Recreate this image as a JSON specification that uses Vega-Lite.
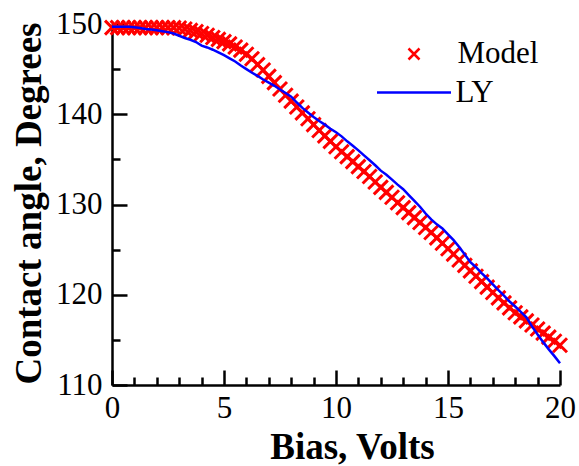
{
  "$schema": "https://vega.github.io/schema/vega-lite/v6.json",
  "width": 448,
  "height": 361,
  "autosize": {"type": "none"},
  "padding": {"left": 112, "top": 24, "right": 19, "bottom": 81},
  "background": "white",
  "config": {
    "view": {"stroke": null},
    "axis": {
      "grid": false,
      "domainColor": "black",
      "domainWidth": 2.5,
      "tickColor": "black",
      "tickWidth": 2.5,
      "labelFont": "Liberation Serif",
      "labelFontSize": 31,
      "labelColor": "black",
      "titleFont": "Liberation Serif",
      "titleFontSize": 37,
      "titleFontWeight": "bold",
      "titleColor": "black",
      "labelFlush": false,
      "labelOverlap": false
    }
  },
  "data": {
    "values": [
      {"bias": 0, "angle": 149.6, "series": "Model"},
      {"bias": 0.25, "angle": 149.6, "series": "Model"},
      {"bias": 0.5, "angle": 149.6, "series": "Model"},
      {"bias": 0.75, "angle": 149.6, "series": "Model"},
      {"bias": 1, "angle": 149.6, "series": "Model"},
      {"bias": 1.25, "angle": 149.6, "series": "Model"},
      {"bias": 1.5, "angle": 149.6, "series": "Model"},
      {"bias": 1.75, "angle": 149.6, "series": "Model"},
      {"bias": 2, "angle": 149.6, "series": "Model"},
      {"bias": 2.25, "angle": 149.6, "series": "Model"},
      {"bias": 2.5, "angle": 149.6, "series": "Model"},
      {"bias": 2.75, "angle": 149.6, "series": "Model"},
      {"bias": 3, "angle": 149.55, "series": "Model"},
      {"bias": 3.25, "angle": 149.45, "series": "Model"},
      {"bias": 3.5, "angle": 149.3, "series": "Model"},
      {"bias": 3.75, "angle": 149.15, "series": "Model"},
      {"bias": 4, "angle": 148.95, "series": "Model"},
      {"bias": 4.25, "angle": 148.75, "series": "Model"},
      {"bias": 4.5, "angle": 148.5, "series": "Model"},
      {"bias": 4.75, "angle": 148.3, "series": "Model"},
      {"bias": 5, "angle": 148.05, "series": "Model"},
      {"bias": 5.25, "angle": 147.8, "series": "Model"},
      {"bias": 5.5, "angle": 147.45, "series": "Model"},
      {"bias": 5.75, "angle": 147.1, "series": "Model"},
      {"bias": 6, "angle": 146.65, "series": "Model"},
      {"bias": 6.25, "angle": 146.15, "series": "Model"},
      {"bias": 6.5, "angle": 145.5, "series": "Model"},
      {"bias": 6.75, "angle": 144.9, "series": "Model"},
      {"bias": 7, "angle": 144.2, "series": "Model"},
      {"bias": 7.25, "angle": 143.5, "series": "Model"},
      {"bias": 7.5, "angle": 142.8, "series": "Model"},
      {"bias": 7.75, "angle": 142.1, "series": "Model"},
      {"bias": 8, "angle": 141.45, "series": "Model"},
      {"bias": 8.25, "angle": 140.8, "series": "Model"},
      {"bias": 8.5, "angle": 140.15, "series": "Model"},
      {"bias": 8.75, "angle": 139.5, "series": "Model"},
      {"bias": 9, "angle": 138.85, "series": "Model"},
      {"bias": 9.25, "angle": 138.2, "series": "Model"},
      {"bias": 9.5, "angle": 137.6, "series": "Model"},
      {"bias": 9.75, "angle": 137.0, "series": "Model"},
      {"bias": 10, "angle": 136.4, "series": "Model"},
      {"bias": 10.25, "angle": 135.85, "series": "Model"},
      {"bias": 10.5, "angle": 135.3, "series": "Model"},
      {"bias": 10.75, "angle": 134.75, "series": "Model"},
      {"bias": 11, "angle": 134.2, "series": "Model"},
      {"bias": 11.25, "angle": 133.65, "series": "Model"},
      {"bias": 11.5, "angle": 133.1, "series": "Model"},
      {"bias": 11.75, "angle": 132.5, "series": "Model"},
      {"bias": 12, "angle": 131.9, "series": "Model"},
      {"bias": 12.25, "angle": 131.35, "series": "Model"},
      {"bias": 12.5, "angle": 130.8, "series": "Model"},
      {"bias": 12.75, "angle": 130.2, "series": "Model"},
      {"bias": 13, "angle": 129.65, "series": "Model"},
      {"bias": 13.25, "angle": 129.1, "series": "Model"},
      {"bias": 13.5, "angle": 128.55, "series": "Model"},
      {"bias": 13.75, "angle": 128.0, "series": "Model"},
      {"bias": 14, "angle": 127.45, "series": "Model"},
      {"bias": 14.25, "angle": 126.9, "series": "Model"},
      {"bias": 14.5, "angle": 126.3, "series": "Model"},
      {"bias": 14.75, "angle": 125.7, "series": "Model"},
      {"bias": 15, "angle": 125.1, "series": "Model"},
      {"bias": 15.25, "angle": 124.5, "series": "Model"},
      {"bias": 15.5, "angle": 123.85, "series": "Model"},
      {"bias": 15.75, "angle": 123.25, "series": "Model"},
      {"bias": 16, "angle": 122.65, "series": "Model"},
      {"bias": 16.25, "angle": 122.05, "series": "Model"},
      {"bias": 16.5, "angle": 121.45, "series": "Model"},
      {"bias": 16.75, "angle": 120.85, "series": "Model"},
      {"bias": 17, "angle": 120.25, "series": "Model"},
      {"bias": 17.25, "angle": 119.65, "series": "Model"},
      {"bias": 17.5, "angle": 119.1, "series": "Model"},
      {"bias": 17.75, "angle": 118.55, "series": "Model"},
      {"bias": 18, "angle": 118.0, "series": "Model"},
      {"bias": 18.25, "angle": 117.55, "series": "Model"},
      {"bias": 18.5, "angle": 117.1, "series": "Model"},
      {"bias": 18.75, "angle": 116.65, "series": "Model"},
      {"bias": 19, "angle": 116.2, "series": "Model"},
      {"bias": 19.25, "angle": 115.75, "series": "Model"},
      {"bias": 19.5, "angle": 115.3, "series": "Model"},
      {"bias": 19.75, "angle": 114.85, "series": "Model"},
      {"bias": 20, "angle": 114.4, "series": "Model"},
      {"bias": 0, "angle": 149.7, "series": "LY"},
      {"bias": 0.25, "angle": 149.7, "series": "LY"},
      {"bias": 0.5, "angle": 149.7, "series": "LY"},
      {"bias": 0.75, "angle": 149.7, "series": "LY"},
      {"bias": 1, "angle": 149.65, "series": "LY"},
      {"bias": 1.25, "angle": 149.55, "series": "LY"},
      {"bias": 1.5, "angle": 149.45, "series": "LY"},
      {"bias": 1.75, "angle": 149.4, "series": "LY"},
      {"bias": 2, "angle": 149.3, "series": "LY"},
      {"bias": 2.25, "angle": 149.2, "series": "LY"},
      {"bias": 2.5, "angle": 149.1, "series": "LY"},
      {"bias": 2.75, "angle": 148.95, "series": "LY"},
      {"bias": 3, "angle": 148.7, "series": "LY"},
      {"bias": 3.25, "angle": 148.45, "series": "LY"},
      {"bias": 3.5, "angle": 148.25, "series": "LY"},
      {"bias": 3.75, "angle": 148.0, "series": "LY"},
      {"bias": 4, "angle": 147.6, "series": "LY"},
      {"bias": 4.25, "angle": 147.4, "series": "LY"},
      {"bias": 4.5, "angle": 147.15, "series": "LY"},
      {"bias": 4.75, "angle": 146.85, "series": "LY"},
      {"bias": 5, "angle": 146.55, "series": "LY"},
      {"bias": 5.25, "angle": 146.2, "series": "LY"},
      {"bias": 5.5, "angle": 145.85, "series": "LY"},
      {"bias": 5.75, "angle": 145.4, "series": "LY"},
      {"bias": 6, "angle": 145.0, "series": "LY"},
      {"bias": 6.25, "angle": 144.6, "series": "LY"},
      {"bias": 6.5, "angle": 144.25, "series": "LY"},
      {"bias": 6.75, "angle": 143.85, "series": "LY"},
      {"bias": 7, "angle": 143.5, "series": "LY"},
      {"bias": 7.25, "angle": 143.15, "series": "LY"},
      {"bias": 7.5, "angle": 142.75, "series": "LY"},
      {"bias": 7.75, "angle": 142.35, "series": "LY"},
      {"bias": 8, "angle": 141.95, "series": "LY"},
      {"bias": 8.25, "angle": 141.3, "series": "LY"},
      {"bias": 8.5, "angle": 140.7, "series": "LY"},
      {"bias": 8.75, "angle": 140.2, "series": "LY"},
      {"bias": 9, "angle": 139.7, "series": "LY"},
      {"bias": 9.25, "angle": 139.25, "series": "LY"},
      {"bias": 9.5, "angle": 138.85, "series": "LY"},
      {"bias": 9.75, "angle": 138.4, "series": "LY"},
      {"bias": 10, "angle": 138.0, "series": "LY"},
      {"bias": 10.25, "angle": 137.55, "series": "LY"},
      {"bias": 10.5, "angle": 137.0, "series": "LY"},
      {"bias": 10.75, "angle": 136.5, "series": "LY"},
      {"bias": 11, "angle": 136.0, "series": "LY"},
      {"bias": 11.25, "angle": 135.45, "series": "LY"},
      {"bias": 11.5, "angle": 134.9, "series": "LY"},
      {"bias": 11.75, "angle": 134.35, "series": "LY"},
      {"bias": 12, "angle": 133.75, "series": "LY"},
      {"bias": 12.25, "angle": 133.3, "series": "LY"},
      {"bias": 12.5, "angle": 132.75, "series": "LY"},
      {"bias": 12.75, "angle": 132.2, "series": "LY"},
      {"bias": 13, "angle": 131.7, "series": "LY"},
      {"bias": 13.25, "angle": 131.05, "series": "LY"},
      {"bias": 13.5, "angle": 130.4, "series": "LY"},
      {"bias": 13.75, "angle": 129.75, "series": "LY"},
      {"bias": 14, "angle": 129.0, "series": "LY"},
      {"bias": 14.25, "angle": 128.35, "series": "LY"},
      {"bias": 14.5, "angle": 127.8, "series": "LY"},
      {"bias": 14.75, "angle": 127.35, "series": "LY"},
      {"bias": 15, "angle": 126.7, "series": "LY"},
      {"bias": 15.25, "angle": 126.05, "series": "LY"},
      {"bias": 15.5, "angle": 125.3, "series": "LY"},
      {"bias": 15.75, "angle": 124.45, "series": "LY"},
      {"bias": 16, "angle": 123.6, "series": "LY"},
      {"bias": 16.25, "angle": 123.05, "series": "LY"},
      {"bias": 16.5, "angle": 122.4, "series": "LY"},
      {"bias": 16.75, "angle": 121.8, "series": "LY"},
      {"bias": 17, "angle": 121.15, "series": "LY"},
      {"bias": 17.25, "angle": 120.5, "series": "LY"},
      {"bias": 17.5, "angle": 119.9, "series": "LY"},
      {"bias": 17.75, "angle": 119.25, "series": "LY"},
      {"bias": 18, "angle": 118.7, "series": "LY"},
      {"bias": 18.25, "angle": 118.1, "series": "LY"},
      {"bias": 18.5, "angle": 117.5, "series": "LY"},
      {"bias": 18.75, "angle": 116.5, "series": "LY"},
      {"bias": 19, "angle": 115.6, "series": "LY"},
      {"bias": 19.25, "angle": 114.75, "series": "LY"},
      {"bias": 19.5, "angle": 113.95, "series": "LY"},
      {"bias": 19.75, "angle": 113.2, "series": "LY"},
      {"bias": 20, "angle": 112.4, "series": "LY"}
    ]
  },
  "layer": [
    {
      "transform": [{"filter": "datum.series === 'Model'"}],
      "mark": {"type": "point", "filled": false, "strokeWidth": 3, "size": 196, "color": "#ff0000", "opacity": 1},
      "encoding": {
        "x": {
          "field": "bias", "type": "quantitative",
          "scale": {"domain": [0, 20], "nice": false, "zero": false},
          "axis": {
            "orient": "bottom", "values": [0, 5, 10, 15, 20], "tickSize": -15,
            "labelPadding": 23, "title": "Bias, Volts",
            "titleX": 240, "titleY": 73, "titleBaseline": "alphabetic"
          }
        },
        "y": {
          "field": "angle", "type": "quantitative",
          "scale": {"domain": [110, 150], "nice": false, "zero": false},
          "axis": {
            "orient": "left", "values": [110, 120, 130, 140, 150], "tickSize": -15,
            "labelPadding": 25, "title": "Contact angle, Degrees",
            "titleX": -72, "titleY": 179, "titleBaseline": "alphabetic", "titleAngle": -90
          }
        },
        "shape": {
          "field": "series", "type": "nominal",
          "scale": {"domain": ["Model"], "range": ["M-1,-1L1,1M-1,1L1,-1"]},
          "legend": {
            "orient": "none", "legendX": 286.5, "legendY": 14.5, "title": null, "padding": 0,
            "labelFont": "Liberation Serif", "labelFontSize": 31, "labelColor": "black",
            "symbolSize": 121, "symbolStrokeWidth": 2.5, "symbolStrokeColor": "#ff0000",
            "symbolFillColor": "transparent", "labelOffset": 28
          }
        }
      }
    },
    {
      "transform": [{"filter": "datum.series === 'LY'"}],
      "mark": {"type": "line", "strokeWidth": 2.5},
      "encoding": {
        "x": {
          "field": "bias", "type": "quantitative",
          "scale": {"domain": [0, 20], "nice": false, "zero": false},
          "axis": {
            "orient": "bottom", "values": [1, 2, 3, 4, 6, 7, 8, 9, 11, 12, 13, 14, 16, 17, 18, 19],
            "tickSize": -8, "labels": false, "domain": false, "title": null
          }
        },
        "y": {
          "field": "angle", "type": "quantitative",
          "scale": {"domain": [110, 150], "nice": false, "zero": false},
          "axis": {
            "orient": "left", "values": [115, 125, 135, 145],
            "tickSize": -8, "labels": false, "domain": false, "title": null
          }
        },
        "stroke": {
          "field": "series", "type": "nominal",
          "scale": {"domain": ["LY"], "range": ["#0000ff"]},
          "legend": {
            "orient": "none", "legendX": 263.5, "legendY": 30, "title": null, "padding": 0,
            "labelFont": "Liberation Serif", "labelFontSize": 31, "labelColor": "black",
            "symbolSize": 5476, "symbolStrokeWidth": 2.5, "symbolType": "stroke", "labelOffset": 3
          }
        }
      }
    }
  ],
  "resolve": {"axis": {"x": "independent", "y": "independent"}}
}
